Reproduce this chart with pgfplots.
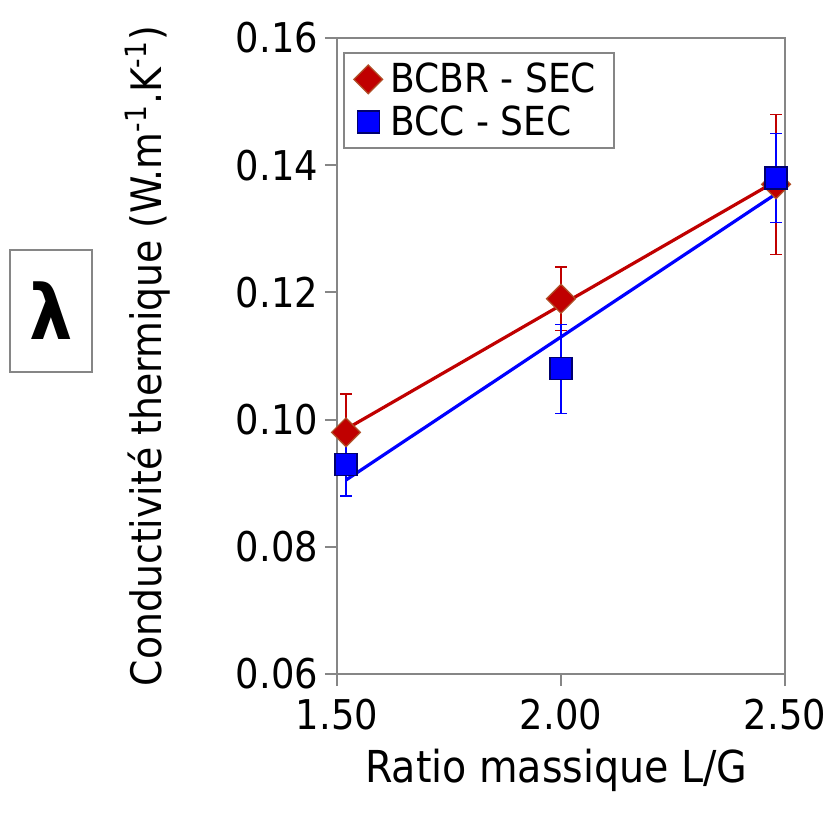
\documentclass[border=0pt]{standalone}
\usepackage{fontspec}
\setmainfont{DejaVu Sans Condensed}
\usepackage{pgfplots}
\pgfplotsset{compat=1.18}
\definecolor{redm}{RGB}{192,0,0}
\definecolor{redb}{RGB}{176,80,40}
\definecolor{bluem}{RGB}{0,0,255}
\definecolor{blueb}{RGB}{0,0,110}
\definecolor{axgray}{RGB}{134,134,134}
\begin{document}
\begin{tikzpicture}
\useasboundingbox (0,0) rectangle (412pt,410pt);
\node[draw=axgray, line width=1pt, minimum width=41pt, minimum height=61pt, inner sep=0pt, font=\fontsize{38}{40}\selectfont\bfseries] at (25.5pt,254.5pt) {λ};
\begin{axis}[at={(168.5pt,73pt)}, anchor=south west, scale only axis,
  width=224pt, height=318pt,
  xmin=1.5, xmax=2.5, ymin=0.06, ymax=0.16,
  xtick={1.5,2,2.5}, ytick={0.06,0.08,0.10,0.12,0.14,0.16},
  clip=false,
  axis line style={axgray, line width=1pt},
  tick style={axgray, line width=1pt},
  major tick length=6pt, tick align=outside,
  xtick pos=bottom, ytick pos=left,
  /pgf/number format/assume math mode=true,
  xticklabel style={yshift=-3pt, /pgf/number format/.cd, fixed, fixed zerofill, precision=2},
  yticklabel style={/pgf/number format/.cd, fixed, fixed zerofill, precision=2},
  ticklabel style={font=\fontsize{20.5}{22}\selectfont},
  label style={font=\fontsize{22}{24}\selectfont},
  xlabel={Ratio massique L/G},
  ylabel={Conductivité thermique (W.m\textsuperscript{-1}.K\textsuperscript{-1})},
  xlabel style={at={(axis description cs:0.49,-0.151)}, anchor=center},
  ylabel style={at={(axis description cs:-0.422,0.5)}, anchor=center, rotate=0, font=\fontsize{21}{23}\selectfont},
  legend style={at={(0.013,0.978)}, anchor=north west, draw=axgray, line width=1pt,
    font=\fontsize{20}{22}\selectfont, inner xsep=5pt, inner ysep=3pt,
    nodes={inner xsep=4pt}, row sep=1pt},
  legend cell align=left,
]
\addplot[only marks, mark=square*, mark size=5.1pt,
  mark options={rotate=45, fill=redm, draw=redb, line width=0.6pt},
  error bars/.cd, y dir=both, y explicit, error mark=-,
  error bar style={redm, line width=0.7pt},
  error mark options={rotate=90, redm, mark size=3pt, line width=0.7pt}]
  coordinates {(1.52,0.098) +- (0,0.006) (2.00,0.119) +- (0,0.005) (2.48,0.137) +- (0,0.011)};
\addlegendentry{BCBR - SEC}
\addplot[only marks, mark=square*, mark size=5.5pt,
  mark options={fill=bluem, draw=blueb, line width=0.6pt},
  error bars/.cd, y dir=both, y explicit, error mark=-,
  error bar style={bluem, line width=0.7pt},
  error mark options={rotate=90, bluem, mark size=3pt, line width=0.7pt}]
  coordinates {(1.52,0.093) +- (0,0.005) (2.00,0.108) +- (0,0.007) (2.48,0.138) +- (0,0.007)};
\addlegendentry{BCC - SEC}
\addplot[bluem, line width=1.6pt, forget plot] coordinates {(1.52,0.0905) (2.48,0.1355)};
\addplot[redm, line width=1.6pt, forget plot] coordinates {(1.52,0.0985) (2.48,0.1375)};
\end{axis}
\end{tikzpicture}
\end{document}
